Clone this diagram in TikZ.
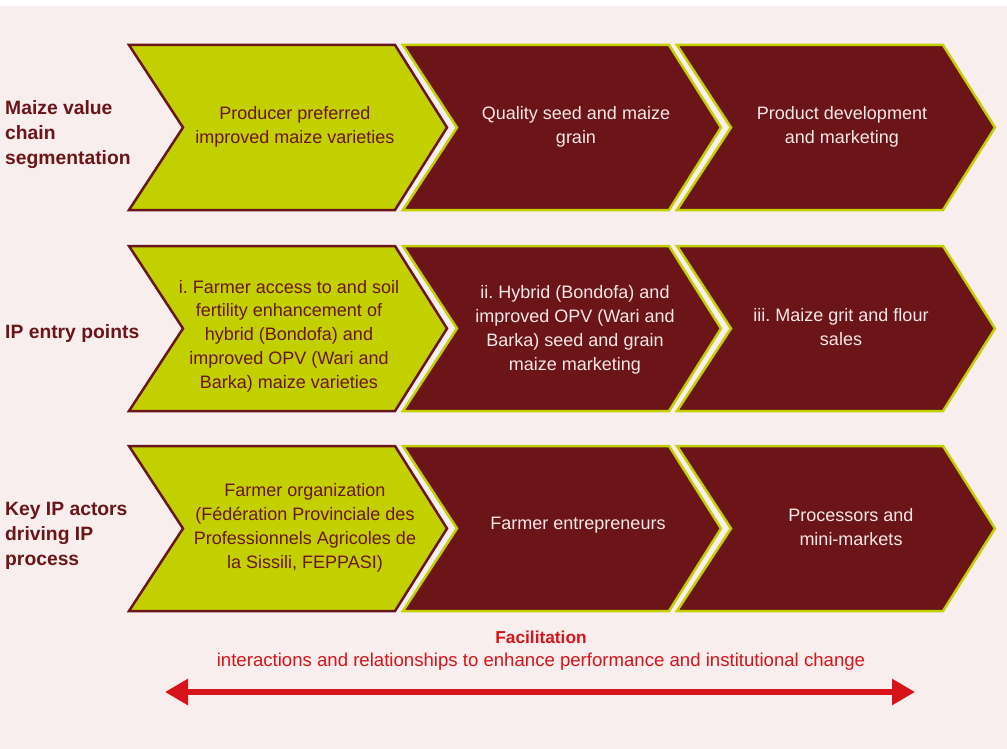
\documentclass[tikz,border=0pt]{standalone}
\usepackage{fontspec}
\setmainfont{Liberation Sans}
\usetikzlibrary{arrows.meta}
\frenchspacing
\definecolor{bg}{RGB}{247,238,237}
\definecolor{lime}{RGB}{194,208,0}
\definecolor{maroon}{RGB}{107,21,25}
\definecolor{pinktext}{RGB}{246,232,232}
\definecolor{facred}{RGB}{214,20,26}
\tikzset{
  greenchev/.style={fill=lime,draw=maroon,line width=2.5pt,line join=miter},
  darkchev/.style={fill=maroon,draw=lime,line width=2.5pt,line join=miter},
  gtext/.style={text=maroon,align=center,font=\fontsize{18}{23.8}\selectfont,inner sep=0pt},
  dtext/.style={text=pinktext,align=center,font=\fontsize{18}{23.8}\selectfont,inner sep=0pt},
  rowlabel/.style={text=maroon,align=left,anchor=west,font=\fontsize{19.3}{25}\selectfont\bfseries,inner sep=0pt},
}
\newcommand\mychev[4]{% style, name, left x, top y
  \path[#1] (#3,#4) -- ++(266,0) -- ++(52,82.5) -- ++(-52,82.5) -- ++(-266,0) -- ++(54,-82.5) -- cycle;
  \coordinate (#2) at (#3+160,#4+82.5);
}
\begin{document}
\begin{tikzpicture}[x=1pt,y=-1pt]
\fill[bg] (0,0) rectangle (1007,749);
\fill[white] (0,0) rectangle (1007,6);
\useasboundingbox (0,0) rectangle (1007,749);

% row 1
\mychev{greenchev}{c11}{129}{45}
\mychev{darkchev}{c12}{403}{45}
\mychev{darkchev}{c13}{677}{45}
% row 2
\mychev{greenchev}{c21}{129}{246}
\mychev{darkchev}{c22}{403}{246}
\mychev{darkchev}{c23}{677}{246}
% row 3
\mychev{greenchev}{c31}{129}{446}
\mychev{darkchev}{c32}{403}{446}
\mychev{darkchev}{c33}{677}{446}

% row labels
\node[rowlabel] (l1) at (5,135) {Maize value\\chain\\segmentation};
\node[rowlabel] (l2) at (5,334) {IP entry points};
\node[rowlabel] (l3) at (5,536) {Key IP actors\\driving IP\\process};

% row 1 texts
\node[gtext] (t11) at (295,127) {Producer preferred\\improved maize varieties};
\node[dtext] (t12) at (576,127) {Quality seed and maize\\grain};
\node[dtext] (t13) at (842,127) {Product development\\and marketing};

% row 2 texts
\node[gtext] (t21) at (289,336) {i. Farmer access to and soil\\fertility enhancement of\\hybrid (Bondofa) and\\improved OPV (Wari and\\Barka) maize varieties};
\node[dtext] (t22) at (575,330) {ii. Hybrid (Bondofa) and\\improved OPV (Wari and\\Barka) seed and grain\\maize marketing};
\node[dtext] (t23) at (841,327) {iii. Maize grit and flour\\sales};

% row 3 texts
\node[gtext] (t31) at (305,528) {Farmer organization\\(Fédération Provinciale des\\Professionnels Agricoles de\\la Sissili, FEPPASI)};
\node[dtext] (t32) at (578,525) {Farmer entrepreneurs};
\node[dtext] (t33) at (851,527) {Processors and\\mini-markets};

% facilitation
\node[text=facred,font=\fontsize{17.3}{20}\selectfont\bfseries,inner sep=0pt] (fac) at (541,637) {Facilitation};
\node[text=facred,font=\fontsize{18.6}{20}\selectfont,inner sep=0pt] (facsub) at (541,662) {interactions and relationships to enhance performance and institutional change};
\coordinate (fa) at (165,692);
\coordinate (fb) at (915,692);
\draw[facred,line width=6.5pt,{Triangle[length=23pt,width=25pt]}-{Triangle[length=23pt,width=25pt]}] (fa) -- (fb);
\end{tikzpicture}
\end{document}
